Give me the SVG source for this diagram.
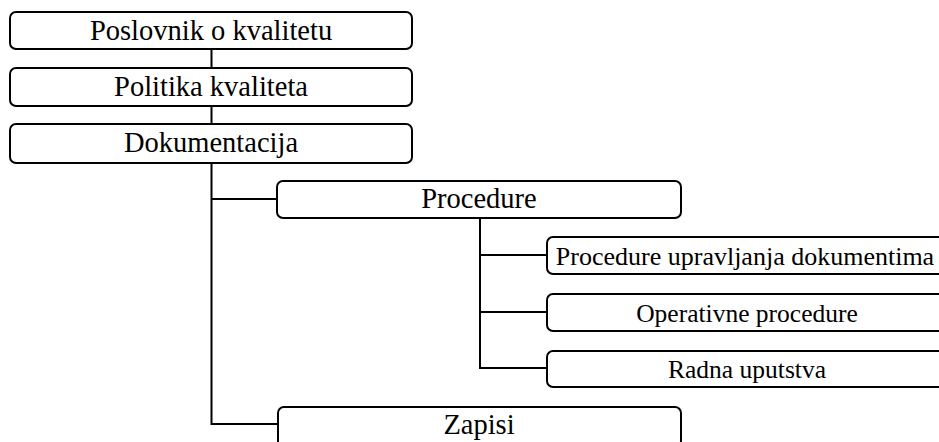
<svg xmlns="http://www.w3.org/2000/svg" width="939" height="442" viewBox="0 0 939 442">
<style>
.box{fill:#fff;stroke:#000;stroke-width:2}
.ln{fill:none;stroke:#000;stroke-width:2}
</style>
<rect width="939" height="442" fill="#fff"/>
<g id="connectors">
<path class="ln" d="M211.5 49V68M211.5 106V124M211.5 163V424H278M211.5 199H277"/>
<path class="ln" d="M480 218V368H547M480 255H547M480 312H547"/>
</g>
<g font-family="Liberation Serif, serif" fill="#000" text-anchor="middle">
<g id="n1"><rect class="box" x="10" y="12" width="402" height="37" rx="6"/><text font-size="28.5" x="211" y="40">Poslovnik o kvalitetu</text></g>
<g id="n2"><rect class="box" x="10" y="68" width="402" height="38" rx="6"/><text font-size="28.5" x="211" y="96">Politika kvaliteta</text></g>
<g id="n3"><rect class="box" x="10" y="124" width="402" height="39" rx="6"/><text font-size="28.5" x="211" y="152">Dokumentacija</text></g>
<g id="n4"><rect class="box" x="277" y="181" width="404" height="37" rx="6"/><text font-size="28.5" x="479" y="208">Procedure</text></g>
<g id="n5"><rect class="box" x="547" y="237" width="404" height="37" rx="6"/><text font-size="26" x="745" y="265">Procedure upravljanja dokumentima</text></g>
<g id="n6"><rect class="box" x="547" y="294" width="404" height="37" rx="6"/><text font-size="25.5" x="747" y="322">Operativne procedure</text></g>
<g id="n7"><rect class="box" x="547" y="351" width="404" height="36" rx="6"/><text font-size="25.5" x="747" y="378">Radna uputstva</text></g>
<g id="n8"><rect class="box" x="278" y="407" width="403" height="40" rx="6"/><text font-size="28.5" x="479" y="434">Zapisi</text></g>
</g>
</svg>
